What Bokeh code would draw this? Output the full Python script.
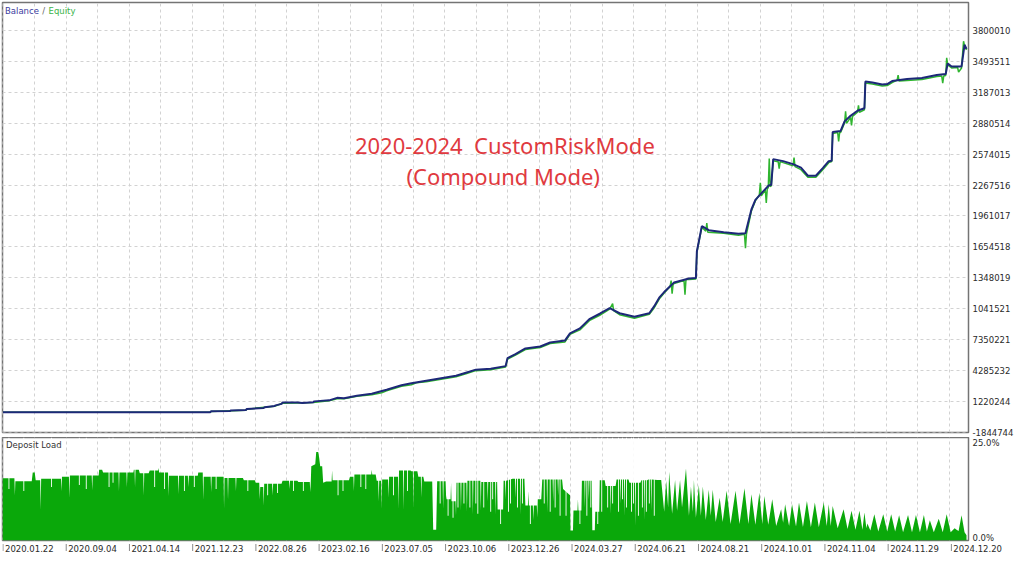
from bokeh.plotting import figure
from bokeh.models import Range1d, FixedTicker, Label
from bokeh.layouts import column
from bokeh.embed import file_html
from bokeh.resources import INLINE
from bokeh.core.properties import value

# ---------------- data ----------------
date_labels = ["2020.01.22", "2020.09.04", "2021.04.14", "2021.12.23", "2022.08.26",
               "2023.02.16", "2023.07.05", "2023.10.06", "2023.12.26", "2024.03.27",
               "2024.06.21", "2024.08.21", "2024.10.01", "2024.11.04", "2024.11.29",
               "2024.12.20"]
# deal-sequence position of each date label
date_pos = [3.0, 66.65, 130.3, 193.95, 257.6, 321.25, 384.9, 448.55, 512.2, 575.85,
            639.5, 703.15, 766.8, 830.45, 894.1, 957.75]

# money axis (millions)
money_ticks = [-1.844744, 1.220244, 4.285232, 7.350221, 10.415209, 13.480197, 16.545185,
               19.610174, 22.675162, 25.740150, 28.805138, 31.870127, 34.935115, 38.000103]
money_labels = ["-1844744", "1220244", "4285232", "7350221", "1041521", "1348019", "1654518",
                "1961017", "2267516", "2574015", "2880514", "3187013", "3493511", "3800010"]

# balance (millions) along the deal sequence
bal_x = [3, 212, 213, 232, 233, 248, 249, 266, 267, 277, 278, 284, 285, 300, 305, 316, 317,
         332, 340, 347, 360, 375, 390, 405, 415, 430, 445, 460, 470, 480, 495, 510, 512, 520,
         530, 545, 555, 570, 575, 585, 595, 605, 615, 625, 640, 655, 660, 665, 670, 680, 695,
         702, 703, 708, 715, 730, 745, 752, 758, 762, 768, 775, 778, 780, 790, 800, 808, 815,
         823, 830, 836, 839, 840, 848, 852, 858, 865, 872, 873, 880, 890, 895, 900, 915, 930,
         945, 954, 956, 960, 970, 973, 975]
bal_v = [0.12, 0.12, 0.21, 0.24, 0.30, 0.35, 0.45, 0.55, 0.62, 0.75, 0.80, 0.95, 1.08, 1.10,
         1.05, 1.12, 1.20, 1.30, 1.55, 1.50, 1.75, 1.95, 2.35, 2.80, 3.00, 3.25, 3.50, 3.75,
         4.05, 4.35, 4.45, 4.70, 5.50, 5.90, 6.45, 6.65, 7.05, 7.25, 7.95, 8.45, 9.40, 9.90,
         10.45, 9.95, 9.60, 9.95, 10.65, 11.50, 12.05, 13.00, 13.40, 13.45, 16.10, 18.60,
         18.20, 18.00, 17.85, 17.90, 20.25, 21.20, 21.85, 22.60, 22.70, 25.25, 25.05, 24.75,
         24.40, 23.60, 23.60, 24.35, 25.05, 25.10, 27.95, 28.05, 29.00, 29.55, 30.05, 30.30,
         32.95, 32.85, 32.65, 32.70, 33.00, 33.20, 33.30, 33.60, 33.70, 34.75, 34.45, 34.45,
         36.60, 36.20]

# equity (millions)
eq_x = [3, 212, 213, 248, 249, 277, 285, 300, 316, 332, 340, 347, 360, 375, 385, 390, 405,
        415, 420, 430, 445, 460, 470, 480, 495, 510, 512, 520, 530, 545, 555, 570, 575, 585,
        595, 605, 615, 618, 619, 625, 640, 655, 660, 665, 670, 676, 677, 678, 679, 680, 690,
        691, 692, 695, 702, 703, 708, 712, 713, 714, 730, 745, 751, 752, 753, 758, 762, 766,
        767, 768, 772, 773, 774, 775, 776, 777, 778, 780, 785, 786, 787, 790, 800, 801, 802,
        808, 815, 823, 830, 836, 839, 840, 845, 846, 847, 848, 852, 853, 854, 858, 859, 860,
        865, 866, 867, 872, 873, 880, 890, 895, 900, 905, 906, 907, 915, 930, 945, 950, 951,
        952, 954, 955, 956, 960, 966, 967, 970, 972, 973, 975]
eq_v = [0.12, 0.12, 0.20, 0.33, 0.43, 0.72, 1.02, 1.05, 1.08, 1.25, 1.45, 1.45, 1.70, 1.85,
        2.05, 2.25, 2.70, 2.85, 3.05, 3.15, 3.40, 3.65, 3.95, 4.25, 4.35, 4.60, 5.40, 5.80,
        6.35, 6.55, 6.95, 7.10, 7.85, 8.30, 9.25, 9.75, 10.35, 10.90, 10.20, 9.80, 9.45,
        9.85, 10.50, 11.35, 11.95, 12.60, 13.20, 11.90, 12.80, 12.90, 13.20, 11.80, 13.30,
        13.30, 13.35, 16.00, 18.50, 18.10, 18.90, 18.00, 17.90, 17.70, 17.80, 16.40, 17.80,
        20.10, 21.10, 21.70, 22.90, 21.60, 22.20, 20.90, 22.30, 22.40, 25.30, 22.50, 22.60,
        25.10, 25.00, 24.30, 25.00, 24.90, 24.60, 25.40, 24.50, 24.20, 23.45, 23.45, 24.20,
        24.90, 25.00, 27.80, 27.90, 27.00, 27.90, 27.90, 28.85, 30.00, 28.80, 29.40, 28.60,
        29.50, 29.90, 30.60, 29.90, 30.15, 32.80, 32.70, 32.50, 32.55, 32.85, 33.10, 33.60,
        33.00, 33.05, 33.15, 33.45, 33.50, 32.80, 33.50, 33.55, 35.30, 34.60, 34.30, 34.35,
        33.90, 34.30, 36.95, 36.50, 36.10]

# deposit load (%) along the deal sequence: envelope of the load
load_pts = [
    (2.5, 15.1), (14.5, 15.1), (15, 11), (15.5, 14.4), (32, 14.4), (33, 16.5), (35, 16.5),
    (36, 14.6), (40.5, 14.6), (41, 7.5), (41.5, 15.0), (61.5, 15.0), (62, 12), (62.5, 15.5),
    (69.5, 15.5), (70, 10.4), (70.5, 15.8), (92.5, 15.8), (93, 12.2), (93.5, 15.8),
    (99.5, 15.8), (100, 17.2), (103, 17.2), (104, 16.5), (119.5, 16.5), (120, 12),
    (120.5, 16.5), (127.5, 16.5), (128, 13), (128.5, 16.5), (134.5, 16.5), (135, 17.2),
    (135.7, 17.2), (136.2, 13), (136.7, 17.2), (140, 17.2), (141, 16.3), (144.5, 16.3),
    (145, 11), (145.5, 16.3), (150, 16.3), (151, 17), (159.5, 17), (160, 17.6),
    (160.5, 16.5), (169.5, 16.5), (170, 10.8), (170.5, 15.7), (179.5, 15.7), (180, 11.3),
    (180.5, 15.7), (189.5, 15.7), (190, 13), (190.5, 15.7), (199.5, 15.7), (200, 16.5),
    (204.5, 16.5), (205, 9.9), (205.5, 15.5), (212.5, 15.5), (213, 11.8), (213.5, 15.5),
    (225.5, 15.5), (226, 7.9), (226.5, 15.2), (229.5, 15.2), (230, 9.9), (230.5, 15.2),
    (237.5, 15.2), (238, 12), (238.5, 15.2), (245, 15.2), (246, 14.6), (257, 14.6),
    (258, 14.0), (261.5, 14.0), (262, 10), (262.5, 13), (265.5, 13), (266, 8.5),
    (266.5, 13.8), (274.5, 13.8), (275, 11), (275.5, 13.8), (284, 13.8), (285, 14.5),
    (291.5, 14.5), (292, 12.5), (292.5, 14.5), (300, 14.5), (301, 14.2), (312.5, 14.2),
    (313, 11.8), (313.5, 14.2), (314, 18), (318, 18.5), (319, 21.5), (321, 21.5),
    (322, 20), (323, 18), (325, 18), (326, 14), (329, 14.3), (334.5, 14.3), (335, 17),
    (335.5, 14.6), (352, 14.6), (353, 15.5), (356.5, 15.5), (357, 12), (357.5, 16),
    (374.5, 16), (375, 17.2), (375.5, 16), (379, 16), (380, 14.5), (381.5, 14.5),
    (382, 9.5), (382.5, 14.5), (384.5, 14.5), (385, 7.7), (385.5, 14.8), (391.5, 14.8),
    (392, 10.4), (392.5, 15.5), (401.5, 15.5), (402, 7.7), (402.5, 17), (406.5, 17),
    (407, 7.5), (407.5, 17), (414, 17), (415, 16.8), (416.5, 16.8), (417, 7.9),
    (417.5, 16.8), (421, 16.8), (422, 15.5), (424.5, 15.5), (425, 10.5), (425.5, 15.5),
    (427, 15.5), (428, 14.3), (436, 14.3), (437, 2.6), (440, 2.6), (441, 14.4),
    (446.5, 14.4), (447, 7.7), (447.5, 14.4), (449.5, 14.4), (450, 10.8), (450.5, 10),
    (454.5, 10), (455, 14), (455.5, 9.5), (459.5, 9.5), (460, 6), (460.5, 14),
    (464.5, 14), (465, 7.3), (465.5, 14), (470.5, 14), (471, 7), (471.5, 14.5),
    (476.5, 14.5), (477, 6.3), (477.5, 14.5), (484.5, 14.5), (485, 7.3), (485.5, 14.2),
    (491.5, 14.2), (492, 9.5), (492.5, 14.2), (499.5, 14.2), (500, 6.3), (500.5, 14.2),
    (501.5, 14.2), (502, 7.5), (507.5, 7.5), (508, 14.5), (509.5, 14.5), (510, 10),
    (510.5, 14.5), (517, 15), (519.5, 15), (520, 10.4), (520.5, 15), (524.5, 15),
    (525, 6.3), (525.5, 15), (529, 15), (530, 8.5), (532.5, 8.5), (533, 12), (533.5, 8.5),
    (537.5, 8.5), (538, 5), (538.5, 8.5), (541.5, 8.5), (542, 5.6), (542.5, 10), (546, 10),
    (547, 14.8), (551.5, 14.8), (552, 6.8), (552.5, 14.8), (557.5, 14.8), (558, 9.5),
    (558.5, 14.8), (562.5, 14.8), (563, 11), (563.5, 14.8), (567, 14.8), (568, 12.5),
    (575, 11), (575.5, 2.4), (578, 2.4), (578.5, 7.3), (582.5, 7.3), (583, 10),
    (583.5, 7.3), (586.5, 7.3), (587, 14.5), (589.5, 14.5), (590, 8), (590.5, 14.5),
    (593.5, 14.5), (594, 10), (594.5, 14.5), (597, 14.5), (597.5, 2.5), (600, 2.5),
    (600.5, 7), (604.5, 7), (605, 14.6), (610, 14.6), (611, 13.2), (615.5, 13.2),
    (616, 6.5), (616.5, 13.2), (621, 13.2), (622, 14.8), (625.5, 14.8), (626, 9),
    (626.5, 14.8), (629.5, 14.8), (630, 6), (630.5, 14.8), (634, 14.8), (635, 14),
    (640.5, 14), (641, 3.5), (641.5, 14), (646, 14), (647, 14.6), (649.5, 14.6), (650, 5),
    (650.5, 14.6), (653, 14.6), (654, 14.8), (656.5, 14.8), (657, 7.3), (657.5, 14.8),
    (663, 14.7), (667, 14.7), (670, 7), (672, 14.5), (674, 8), (675, 16.7), (678, 6.5),
    (681, 14.7), (683, 7.2), (686, 14.7), (688, 8), (692, 17.5), (695, 6), (697, 13.1),
    (699, 7), (700, 14.7), (702, 5.5), (705, 13.5), (707, 6), (709, 13.1), (712, 5),
    (715, 12.3), (717, 6), (719, 12.3), (722, 4.5), (726, 10.4), (729, 4.5), (733, 12.1),
    (737, 4), (742, 12.1), (746, 4), (751, 12.7), (755, 4), (758, 11.2), (762, 3.8),
    (766, 11.6), (769, 4), (771, 10.8), (775, 3.8), (779, 10.0), (783, 3.5), (788, 7.6),
    (790, 4.3), (792, 8.8), (796, 3.5), (799, 8.8), (803, 3.4), (806, 9.2), (810, 3.3),
    (814, 9.6), (818, 3.2), (822, 9.2), (826, 3.2), (831, 9.2), (834, 3.5), (836, 8.8),
    (838, 3.5), (840, 8.4), (845, 3), (851, 7.6), (855, 2.8), (859, 7.2), (863, 2.6),
    (867, 7.2), (870, 2.6), (872, 6.8), (874, 3), (875, 4.1), (878, 2.4), (882, 6.4),
    (886, 2.2), (891, 6.4), (895, 2.2), (899, 6.4), (903, 2.2), (907, 6.1), (911, 2.0),
    (916, 6.2), (920, 2.0), (924, 6.2), (928, 2.0), (932, 6.2), (935, 2.2), (938, 4.9),
    (942, 2.0), (947, 5.3), (951, 2.0), (955, 6.4), (959, 2.0), (963, 3.0), (965, 2.6),
    (967, 2.3), (970, 6.1), (973, 2.0), (975, 1.3)]
load_x = [pt[0] for pt in load_pts]
load_v = [pt[1] for pt in load_pts]

# single deals with a lower load than their neighbours (white gaps in the fill)
dip_x = [9, 24, 52, 80, 87, 110, 114, 156, 166, 186, 196, 218, 250, 270, 280, 296, 306,
         341, 346, 364, 369, 397, 411, 444, 452, 457, 462, 468, 474, 480, 482, 488, 495,
         497, 505, 513, 515, 522, 527, 535, 549, 555, 560, 565, 571, 585, 592, 596, 603,
         607, 613, 618, 624, 628, 632, 637, 639, 644, 648, 652, 655, 660]
dip_v = [12.5, 12, 13, 13.5, 12.5, 13, 14, 13, 12.5, 12, 13, 12.5, 12, 11, 11.5, 12, 12,
         11, 12, 13, 12.5, 11, 12, 9, 6, 5.5, 8, 9, 8, 9, 6.5, 8, 7,
         10, 4, 7, 9, 8, 9, 4, 9, 7, 8, 6, 6, 4, 6, 8, 4,
         7, 8, 9, 7, 10, 8, 7, 9, 6, 8, 7, 9, 6]

load_ticks = [0.5, 23.6]
load_labels = ["0.0%", "25.0%"]

# ---------------- styling ----------------
FONT = "DejaVu Sans"
FS = "8.5px"
GRID = "#d2d2d2"
OUTLINE = "#747474"
W = 1016
LB, RB = 2, 46
X0, X1 = 2.5, 977.0

grid_x = sorted(date_pos + [(a + b) / 2 for a, b in zip(date_pos[:-1], date_pos[1:])])

xr = Range1d(X0, X1)


def style_right_axis(ax):
    ax.axis_line_color = None
    ax.major_tick_line_color = None
    ax.minor_tick_line_color = None
    ax.major_tick_out = 0
    ax.major_tick_in = 0
    ax.minor_tick_out = 0
    ax.minor_tick_in = 0
    ax.major_label_standoff = 4
    ax.major_label_text_font = FONT
    ax.major_label_text_font_size = FS
    ax.major_label_text_color = "#2a2a2a"


p = figure(width=W, height=437, x_range=xr, y_range=Range1d(-1.89, 40.8),
           output_backend="svg", toolbar_location=None,
           x_axis_location=None, y_axis_location="right",
           min_border_left=LB, min_border_right=RB, min_border_top=2, min_border_bottom=5)
p.background_fill_color = "white"
p.border_fill_color = "white"
p.outline_line_color = OUTLINE
p.outline_line_width = 1.5

p.xgrid.ticker = FixedTicker(ticks=grid_x)
p.ygrid.ticker = FixedTicker(ticks=money_ticks)
for g in (p.xgrid, p.ygrid):
    g.grid_line_color = GRID
    g.grid_line_dash = "3 3"
    g.grid_line_width = 1

ya = p.yaxis[0]
ya.ticker = FixedTicker(ticks=money_ticks)
ya.major_label_overrides = {t: s for t, s in zip(money_ticks, money_labels)}
style_right_axis(ya)

p.line(eq_x, eq_v, line_color="#2fb52f", line_width=1.5)
p.line(bal_x, bal_v, line_color="#1d2878", line_width=2.0)

# legend text
p.add_layout(Label(x=5, y=40.0, text="Balance", text_font=FONT, text_font_size=FS,
                   text_color="#3b3b9e", text_baseline="middle"))
p.add_layout(Label(x=42.5, y=40.0, text="/", text_font=FONT, text_font_size=FS,
                   text_color="#666666", text_baseline="middle"))
p.add_layout(Label(x=49, y=40.0, text="Equity", text_font=FONT, text_font_size=FS,
                   text_color="#3cb44a", text_baseline="middle"))

# title text
TITLE_RED = "#e03a40"
p.add_layout(Label(x=358, y=26.70, text="2020-2024\u00a0\u00a0CustomRiskMode",
                   text_font="Noto Sans", text_font_size="22px", text_color=TITLE_RED,
                   text_align="left", text_baseline="middle"))
p.add_layout(Label(x=410, y=23.62, text="(Compound Mode)", text_font="Noto Sans",
                   text_font_size="22px", text_color=TITLE_RED, text_align="left",
                   text_baseline="middle"))

# ---------------- deposit load panel ----------------
d = figure(width=W, height=106, x_range=xr, y_range=Range1d(0, 25),
           output_backend="svg", toolbar_location=None,
           x_axis_location=None, y_axis_location="right",
           min_border_left=LB, min_border_right=RB, min_border_top=0, min_border_bottom=3)
d.background_fill_color = "white"
d.border_fill_color = "white"
d.outline_line_color = OUTLINE
d.outline_line_width = 1.5
d.ygrid.visible = False
d.xgrid.ticker = FixedTicker(ticks=grid_x)
d.xgrid.grid_line_color = GRID
d.xgrid.grid_line_dash = "3 3"

d.varea(x=load_x, y1=0, y2=load_v, fill_color="#0aa80a")
d.vbar(x=dip_x, bottom=dip_v, top=25, width=0.9, fill_color="white", line_color=None)

dy = d.yaxis[0]
dy.ticker = FixedTicker(ticks=load_ticks)
dy.major_label_overrides = {t: s for t, s in zip(load_ticks, load_labels)}
style_right_axis(dy)

d.add_layout(Label(x=6, y=23.2, text="Deposit Load", text_font=FONT, text_font_size=FS,
                   text_color="#333333", text_baseline="middle"))

# ---------------- date strip ----------------
scale = (X1 - X0) / (W - LB - RB)
t = figure(width=W, height=14, x_range=Range1d(X0, X0 + (W - LB) * scale),
           y_range=Range1d(0, 14), output_backend="svg", toolbar_location=None,
           x_axis_location=None, y_axis_location=None,
           min_border_left=LB, min_border_right=0, min_border_top=0, min_border_bottom=0)
t.frame_align = False
t.outline_line_color = None
t.background_fill_color = "white"
t.border_fill_color = "white"
t.grid.visible = False
t.segment(x0=date_pos, y0=[13.5] * len(date_pos), x1=date_pos, y1=[6.5] * len(date_pos),
          line_color="#8a8a8a", line_width=1)
t.text(x=[v + 2 for v in date_pos], y=[9] * len(date_pos), text=date_labels,
       text_font=value(FONT), text_font_size=value(FS), text_color="#2a2a2a",
       text_align="left", text_baseline="middle")

layout = column(p, d, t, spacing=0)
open("out.html", "w").write(file_html(layout, INLINE))
